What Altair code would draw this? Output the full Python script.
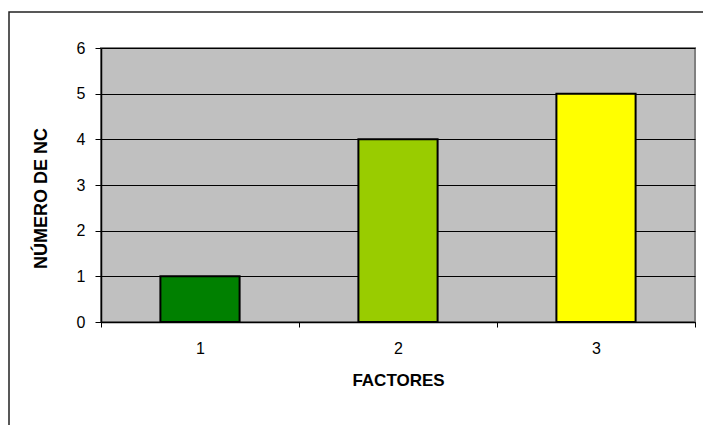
import altair as alt
import pandas as pd

factores = ["1", "2", "3"]
numero_nc = [1, 4, 5]
colores = ["#008000", "#99CC00", "#FFFF00"]
y_ticks = [0, 1, 2, 3, 4, 5, 6]

df = pd.DataFrame({"factor": factores, "nc": numero_nc})

bars = alt.Chart(df).mark_bar(
    width=alt.RelativeBandSize(0.4), stroke="#000000", strokeWidth=2
).encode(
    x=alt.X(
        "factor:N",
        sort=factores,
        scale=alt.Scale(paddingInner=0, paddingOuter=0),
        axis=alt.Axis(
            title="FACTORES",
            labelAngle=0,
            tickBand="extent",
            tickSize=5,
            labelPadding=13,
            titlePadding=16,
            titleFontSize=17,
            domainColor="#000000",
            tickColor="#000000",
            domainWidth=1.5,
        ),
    ),
    y=alt.Y(
        "nc:Q",
        scale=alt.Scale(domain=[0, 6]),
        axis=alt.Axis(
            title="NÚMERO DE NC",
            values=y_ticks,
            tickSize=6,
            labelPadding=10,
            titlePadding=26,
            titleFontSize=18,
            titleY=150,
            grid=True,
            gridColor="#000000",
            gridWidth=1,
            domainColor="#000000",
            tickColor="#000000",
            domainWidth=1.5,
        ),
    ),
    color=alt.Color(
        "factor:N",
        scale=alt.Scale(domain=factores, range=colores),
        legend=None,
    ),
)

border = alt.Chart(alt.Data(values=[{}])).mark_rect(
    filled=False, stroke="#222222", strokeWidth=1.5, clip=False
).encode(
    x=alt.value(-92),
    x2=alt.value(640),
    y=alt.value(-36),
    y2=alt.value(420),
)

chart = alt.layer(border, bars).properties(
    width=594,
    height=274,
    background="#FFFFFF",
    autosize=alt.AutoSizeParams(type="none"),
    padding={"left": 101, "top": 48, "right": 8, "bottom": 103},
).configure_view(
    fill="#C0C0C0", stroke="#808080", strokeWidth=2
).configure_axis(
    labelFont="Liberation Sans",
    titleFont="Liberation Sans",
    labelFontSize=16,
    titleFontWeight="bold",
    labelColor="#000000",
    titleColor="#000000",
)

chart.save("out.html", embed_options={"renderer": "svg", "actions": False})
